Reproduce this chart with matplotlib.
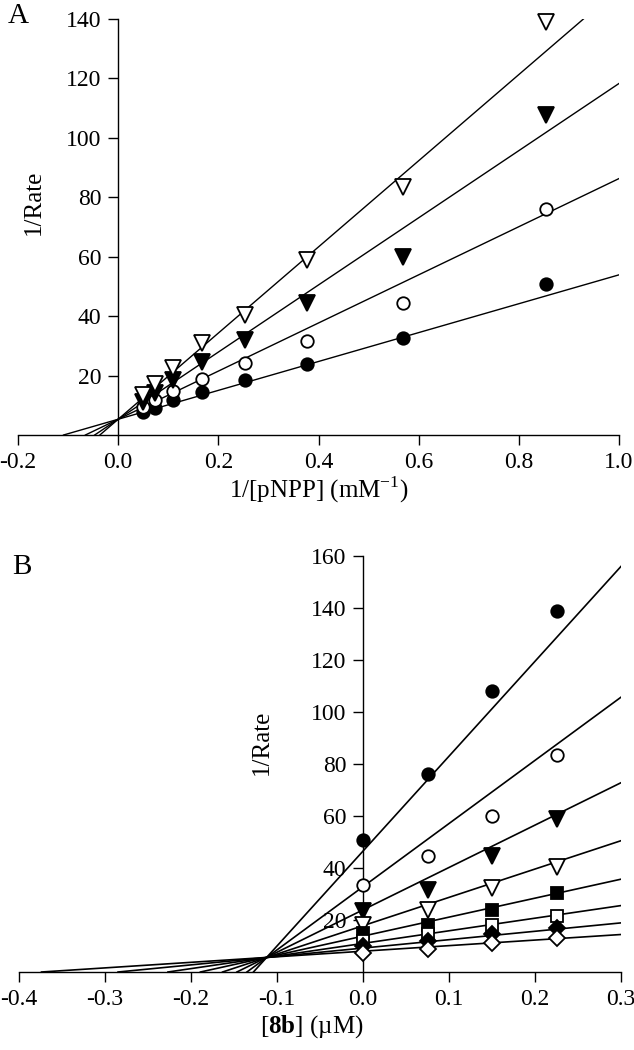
import numpy as np
import matplotlib
matplotlib.use("Agg")
import matplotlib.pyplot as plt

plt.rcParams['font.family'] = ['Liberation Serif', 'DejaVu Serif']
plt.rcParams['mathtext.fontset'] = 'custom'
plt.rcParams['mathtext.rm'] = 'Liberation Serif'
plt.rcParams['mathtext.bf'] = 'Liberation Serif:bold'
plt.rcParams['axes.unicode_minus'] = False

# panel A: Lineweaver-Burk, 1/[pNPP] vs 1/Rate
a_x = [0.049, 0.074, 0.11, 0.167, 0.254, 0.378, 0.569, 0.854]
a_filled_circle = [7.8, 9.0, 11.8, 14.5, 18.5, 23.9, 32.7, 50.8]
a_open_circle = [9.5, 11.8, 14.9, 18.8, 24.1, 31.6, 44.5, 76.0]
a_filled_tri = [11.0, 14.0, 18.5, 24.7, 32.0, 44.5, 60.0, 107.7]
a_open_tri = [13.5, 17.0, 22.5, 31.0, 40.4, 59.0, 83.6, 139.0]
a_slopes = [48.6, 81.0, 113.0, 145.0]
a_icpt = [5.3, 5.3, 5.3, 5.3]

# panel B: Dixon plot, [8b] vs 1/Rate
b_x = [0.0, 0.075, 0.15, 0.225]
b_series = {
    'filled_circle': [50.8, 76.0, 108.0, 139.0],
    'open_circle': [33.5, 44.5, 60.0, 83.5],
    'filled_tri': [23.5, 31.5, 44.5, 59.0],
    'open_tri': [18.0, 24.0, 32.5, 40.5],
    'filled_square': [15.0, 18.0, 24.0, 30.5],
    'open_square': [12.0, 14.5, 18.0, 21.5],
    'filled_diamond': [10.0, 12.0, 14.5, 17.0],
    'open_diamond': [7.5, 9.0, 11.0, 13.0],
}
b_slopes = [365, 243, 163, 109, 73, 48.5, 32.3, 21.4]
b_icpt = [46.5, 32.8, 23.9, 17.8, 13.8, 11.0, 9.2, 8.0]

styles = {
    'filled_circle': ('o', 'black'),
    'open_circle': ('o', 'white'),
    'filled_tri': ('v', 'black'),
    'open_tri': ('v', 'white'),
    'filled_square': ('s', 'black'),
    'open_square': ('s', 'white'),
    'filled_diamond': ('D', 'black'),
    'open_diamond': ('D', 'white'),
}
msize = {'o': 9, 'v': 11, 's': 9, 'D': 8}

fig = plt.figure(figsize=(6.34, 10.5), dpi=100)
axA = fig.add_axes([18/634, 615/1050, 601/634, 416/1050])
axB = fig.add_axes([19/634, 78/1050, 602/634, 416/1050])

def style_axes(ax, xlim, ylim, xticks, yticks):
    ax.set_xlim(*xlim)
    ax.set_ylim(*ylim)
    ax.spines['top'].set_visible(False)
    ax.spines['right'].set_visible(False)
    ax.spines['left'].set_position(('data', 0))
    ax.spines['bottom'].set_position(('data', 0))
    for s in ('left', 'bottom'):
        ax.spines[s].set_linewidth(1.0)
    ax.set_xticks(xticks)
    ax.set_xticklabels(['%.1f' % (round(t, 2) + 0.0) for t in xticks])
    ax.set_yticks(yticks)
    ax.set_yticklabels(['%d' % t for t in yticks])
    ax.tick_params(direction='out', length=7, width=1.0, labelsize=17, pad=5)

# panel A
for m, b in zip(a_slopes, a_icpt):
    x0 = -b / m
    x1 = min(1.0, (140 - b) / m)
    xs = np.array([x0, x1])
    axA.plot(xs, b + m * xs, color='black', lw=1.0, zorder=2)
for ys, key in [(a_filled_circle, 'filled_circle'), (a_open_circle, 'open_circle'),
                (a_filled_tri, 'filled_tri'), (a_open_tri, 'open_tri')]:
    mk, fc = styles[key]
    axA.plot(a_x, ys, ls='none', marker=mk, ms=msize[mk], mfc=fc, mec='black',
             mew=1.3, zorder=4, clip_on=False)
style_axes(axA, (-0.2, 1.0), (0, 140), np.arange(-0.2, 1.01, 0.2), np.arange(20, 141, 20))
axA.set_xlabel('1/[pNPP] (mM$^{-1}$)', fontsize=18)
axA.xaxis.set_label_coords(0.5, -0.095)
axA.set_ylabel('1/Rate', fontsize=18)
axA.yaxis.set_label_coords(0.045, 0.56)
fig.text(8/634, 1 - 16/1050, 'A', fontsize=21, va='center', ha='left')

# panel B
for m, b in zip(b_slopes, b_icpt):
    x0 = -b / m
    x1 = min(0.3, (160 - b) / m)
    xs = np.array([x0, x1])
    axB.plot(xs, b + m * xs, color='black', lw=1.2, zorder=2)
for key, ys in b_series.items():
    mk, fc = styles[key]
    axB.plot(b_x, ys, ls='none', marker=mk, ms=msize[mk], mfc=fc, mec='black',
             mew=1.3, zorder=4, clip_on=False)
style_axes(axB, (-0.4, 0.3), (0, 160), np.arange(-0.4, 0.31, 0.1), np.arange(20, 161, 20))
axB.set_xlabel('[$\\mathbf{8b}$] (µM)', fontsize=18)
axB.xaxis.set_label_coords(0.487, -0.098)
axB.set_ylabel('1/Rate', fontsize=18)
axB.yaxis.set_label_coords(0.422, 0.553)
fig.text(12/634, 1 - 567/1050, 'B', fontsize=21, va='center', ha='left')

plt.savefig('out.png', dpi=100)
